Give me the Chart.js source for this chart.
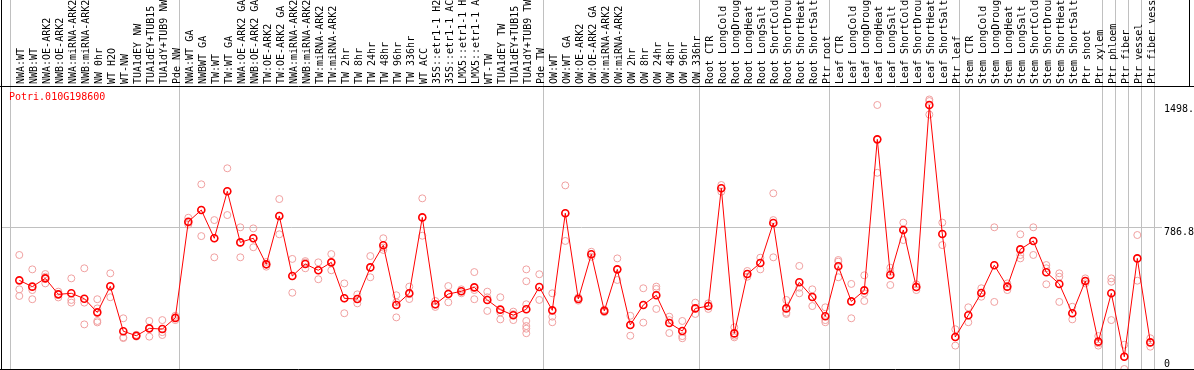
<!DOCTYPE html>
<html>
<head>
<meta charset="utf-8">
<title>Potri.010G198600</title>
<script src="https://cdn.jsdelivr.net/npm/chart.js"></script>
<style>
    html, body { margin: 0; padding: 0; background: #fff; }
    #caixa { position: relative; width: 1194px; height: 370px; }
</style>
</head>
<body>
<div id="caixa"><canvas id="grafico"></canvas></div>
<script>
const gene = "Potri.010G198600";

const categories = [
    "NWA:WT", "NWB:WT", "NWA:OE-ARK2", "NWB:OE-ARK2", "NWA:miRNA-ARK2", "NWB:miRNA-ARK2",
    "NW 0hr", "WT H2O", "WT-NW", "TUA1dEY NW", "TUA1dEY+TUB15", "TUA1dY+TUB9 NW", "Pde NW",
    "NWA:WT GA", "NWBWT GA", "TW:WT", "TW:WT GA", "NWA:OE-ARK2 GA", "NWB:OE-ARK2 GA",
    "TW:OE-ARK2", "TW:OE-ARK2 GA", "NWA:miRNA-ARK2", "NWB:miRNA-ARK2", "TW:miRNA-ARK2",
    "TW:miRNA-ARK2", "TW 2hr", "TW 8hr", "TW 24hr", "TW 48hr", "TW 96hr", "TW 336hr",
    "WT ACC", "35S::etr1-1 H2", "35S::etr1-1 AC", "LMX5::etr1-1 H", "LMX5::etr1-1 A",
    "WT-TW", "TUA1dEY TW", "TUA1dEY+TUB15", "TUA1dY+TUB9 TW", "Pde TW",
    "OW:WT", "OW:WT GA", "OW:OE-ARK2", "OW:OE-ARK2 GA", "OW:miRNA-ARK2", "OW:miRNA-ARK2",
    "OW 2hr", "OW 8hr", "OW 24hr", "OW 48hr", "OW 96hr", "OW 336hr",
    "Root CTR", "Root LongCold", "Root LongDroug", "Root LongHeat", "Root LongSalt",
    "Root ShortCold", "Root ShortDrou", "Root ShortHeat", "Root ShortSalt", "Ptr root",
    "Leaf CTR", "Leaf LongCold", "Leaf LongDroug", "Leaf LongHeat", "Leaf LongSalt",
    "Leaf ShortCold", "Leaf ShortDrou", "Leaf ShortHeat", "Leaf ShortSalt", "Ptr leaf",
    "Stem CTR", "Stem LongCold", "Stem LongDroug", "Stem LongHeat", "Stem LongSalt",
    "Stem ShortCold", "Stem ShortDrou", "Stem ShortHeat", "Stem ShortSalt",
    "Ptr shoot", "Ptr xylem", "Ptr phloem", "Ptr fiber", "Ptr vessel", "Ptr fiber vess"
];

const means = [
    493, 458, 504, 415, 421, 391, 315, 460, 210, 185, 226, 222, 284,
    819, 884, 727, 988, 704, 727, 582, 851, 517, 584, 549, 593, 393, 389, 565, 688, 356,
    421, 843, 360, 417, 432, 454, 384, 330, 299, 332, 456,
    326, 866, 389, 638, 323, 554, 245, 356, 410, 256, 211, 337,
    350, 1005, 198, 528, 589, 812, 337, 482, 400, 293,
    571, 376, 437, 1277, 523, 773, 456, 1468, 751, 178,
    299, 423, 577, 458, 665, 712, 538, 473, 310, 489, 152,
    421, 68, 615, 148
];

const replicates = [
    [634, 443, 406], [554, 439, 388], [528, 513, 476], [430, 417, 398], [504, 384, 369],
    [560, 369, 248], [388, 337, 267, 259], [532, 460, 399], [282, 176, 172], [190, 185, 180],
    [267, 226, 180], [272, 205, 189], [296, 284, 272],
    [841, 813, 803], [1027, 884, 739], [828, 727, 621], [1116, 988, 856], [788, 704, 621],
    [782, 727, 677], [595, 582, 569], [945, 851, 749], [612, 517, 424], [600, 592, 560],
    [593, 549, 499], [639, 593, 549], [476, 393, 310], [415, 389, 365], [628, 565, 510],
    [727, 675, 662], [410, 371, 287], [458, 416, 389], [949, 843, 741], [378, 357, 345],
    [461, 417, 371], [443, 432, 421], [539, 439, 388], [430, 399, 323], [399, 315, 276],
    [319, 305, 272], [554, 488, 360, 267, 239, 224, 199], [527, 384],
    [421, 291, 260], [1021, 866, 712], [398, 389, 380], [652, 638, 624], [330, 323, 316],
    [615, 554, 495], [296, 245, 185], [449, 356, 258], [458, 445, 334], [291, 272, 200],
    [267, 183, 171], [369, 337, 306],
    [365, 350, 334], [1023, 1005, 986], [232, 185, 176], [545, 528, 513], [619, 589, 554],
    [977, 828, 621], [384, 313, 306], [573, 452, 421], [443, 400, 350], [343, 272, 260],
    [606, 597, 510], [473, 376, 282], [521, 421, 378], [1468, 1277, 1091], [563, 540, 467],
    [814, 773, 717], [471, 456, 439], [1498.7, 1490, 1415], [814, 751, 689], [221, 178, 130],
    [343, 299, 260], [449, 423, 402], [788, 577, 373], [476, 458, 439], [749, 634, 615],
    [788, 712, 634], [578, 560, 471], [532, 513, 373], [346, 310, 276], [504, 489, 476],
    [183, 143, 130],
    [504, 485, 272], [135, 70, 0], [745, 615, 491], [171, 148, 124]
];

// first category of each group (88 = end)
const groupStarts = [0, 13, 41, 53, 63, 73, 84, 85, 86, 87, 88];
const yTicks = [0, 786.8, 1498.7];
const yMax = 1573.6;

const mono = "'DejaVu Sans Mono', monospace";

const moldura = {
    id: "moldura",
    beforeDraw(chart) {
        const { ctx, chartArea, scales } = chart;
        ctx.save();
        ctx.strokeStyle = "#c0c0c0";
        ctx.lineWidth = 1;
        for (const g of groupStarts) {
            const px = Math.floor(scales.x.getPixelForValue(g - 0.66)) + 0.5;
            ctx.beginPath();
            ctx.moveTo(px, 0);
            ctx.lineTo(px, chartArea.bottom);
            ctx.stroke();
        }
        ctx.restore();
    },
    afterDraw(chart) {
        const { ctx, chartArea, width, height } = chart;
        ctx.save();
        ctx.strokeStyle = "#000";
        ctx.lineWidth = 1;
        ctx.beginPath();
        ctx.moveTo(1.5, 0);
        ctx.lineTo(1.5, height);
        ctx.moveTo(0, chartArea.top + 0.5);
        ctx.lineTo(width, chartArea.top + 0.5);
        ctx.moveTo(0, chartArea.bottom + 0.5);
        ctx.lineTo(width, chartArea.bottom + 0.5);
        ctx.moveTo(1189.5, 0);
        ctx.lineTo(1189.5, chartArea.top);
        ctx.stroke();

        ctx.fillStyle = "#ff0000";
        ctx.font = "10px " + mono;
        ctx.textBaseline = "alphabetic";
        ctx.fillText(gene, chartArea.left + 8, chartArea.top + 14);
        ctx.restore();
    }
};

const ctx1 = document.getElementById("grafico").getContext("2d");
new Chart(ctx1, {
    type: "scatter",
    data: {
        datasets: [
            {
                label: gene,
                data: means.map((v, i) => ({ x: i, y: v })),
                showLine: true,
                borderColor: "#ff0000",
                borderWidth: 1,
                pointRadius: 3.5,
                pointBorderWidth: 1.6,
                pointBorderColor: "#ff0000",
                pointBackgroundColor: "rgba(0,0,0,0)",
                order: 0,
            },
            {
                label: "replicates",
                data: replicates.flatMap((r, i) => r.map(v => ({ x: i, y: v }))),
                pointRadius: 3.5,
                pointBorderWidth: 1,
                pointBorderColor: "#f0a0a0",
                pointBackgroundColor: "rgba(0,0,0,0)",
                order: 1,
            },
        ],
    },
    options: {
        responsive: true,
        maintainAspectRatio: false,
        animation: false,
        devicePixelRatio: 1,
        layout: { autoPadding: false, padding: { left: 1, right: 0, top: 0, bottom: 1 } },
        plugins: {
            legend: { display: false },
            tooltip: { enabled: false },
        },
        scales: {
            x: {
                type: "linear",
                position: "top",
                min: -1.408,
                max: 87.9,
                afterBuildTicks: (s) => { s.ticks = categories.map((c, i) => ({ value: i })); },
                afterFit: (s) => {
                    s.height = 86;
                    s.paddingLeft = 0;
                    s.paddingRight = 0;
                },
                grid: { display: false, drawTicks: false },
                border: { display: false },
                ticks: {
                    autoSkip: false,
                    minRotation: 90,
                    maxRotation: 90,
                    padding: 2,
                    labelOffset: 14,
                    color: "#000",
                    font: { family: mono, size: 10 },
                    callback: (v) => categories[v],
                },
            },
            y: {
                type: "linear",
                position: "right",
                min: 0,
                max: yMax,
                afterBuildTicks: (s) => { s.ticks = yTicks.map(v => ({ value: v })); },
                afterFit: (s) => {
                    s.width = 32;
                    s.paddingTop = 0;
                    s.paddingBottom = 0;
                },
                grid: {
                    drawTicks: false,
                    color: (c) => (c.tick && c.tick.value === 786.8 ? "#c0c0c0" : "rgba(0,0,0,0)"),
                },
                border: { display: false },
                ticks: {
                    padding: 2,
                    labelOffset: 5,
                    color: "#000",
                    font: { family: mono, size: 10, lineHeight: 1 },
                    callback: (v) => {
                        if (v === 0) return ["0", "", ""];
                        if (v === 1498.7) return ["", "1498.7"];
                        return String(v);
                    },
                },
            },
        },
    },
    plugins: [moldura],
});
</script>
</body>
</html>
